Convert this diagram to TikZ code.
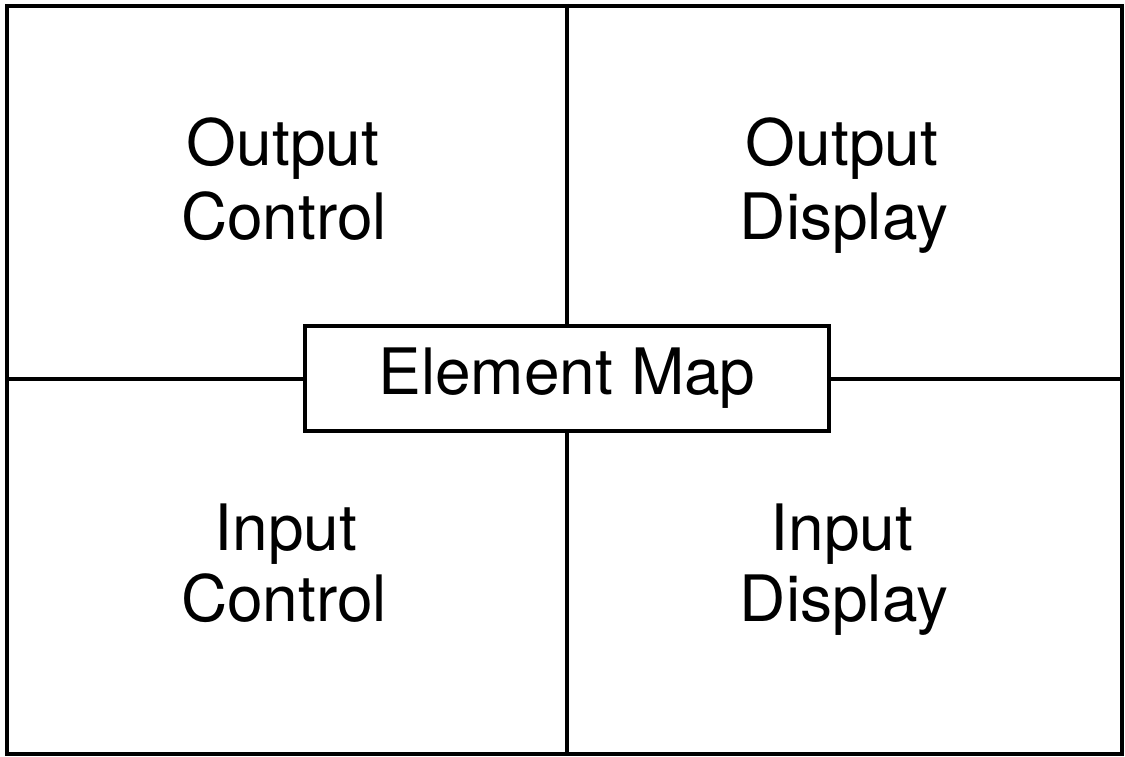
\documentclass[tikz,border=0pt]{standalone}
\usepackage{fontspec}
\setmainfont{TeX Gyre Heros}

\begin{document}
\begin{tikzpicture}[x=1pt,y=-1pt,
  rule/.style={line width=4pt},
  word/.style={anchor=base, inner sep=0pt, font=\fontsize{64}{72}\selectfont}]
  \useasboundingbox (0,0) rectangle (1125,757);
  % frame and centre box
  \node (frame) [draw, rule, minimum width=1115pt, minimum height=748pt] at (564.5,380) {};
  \node (map) [draw, rule, fill=white, minimum width=524pt, minimum height=105pt,
    inner sep=0pt, font=\fontsize{64}{72}\selectfont] at (567,378.5) {Element Map};
  % cross lines
  \draw[rule] (frame.north -| map.north) -- (map.north);
  \draw[rule] (map.south) -- (frame.south -| map.south);
  \draw[rule] (frame.west |- map.west) -- (map.west);
  \draw[rule] (map.east) -- (frame.east |- map.east);
  % quadrants
  \node[word] (outA) at (283,166) {Output};
  \node[word] (outB) at (284,239) {Control};
  \node[word] (outC) at (842,166) {Output};
  \node[word] (outD) at (844,239) {Display};
  \node[word] (inA) at (286,550) {Input};
  \node[word] (inB) at (284,621) {Control};
  \node[word] (inC) at (842,550) {Input};
  \node[word] (inD) at (844,621) {Display};
\end{tikzpicture}
\end{document}
